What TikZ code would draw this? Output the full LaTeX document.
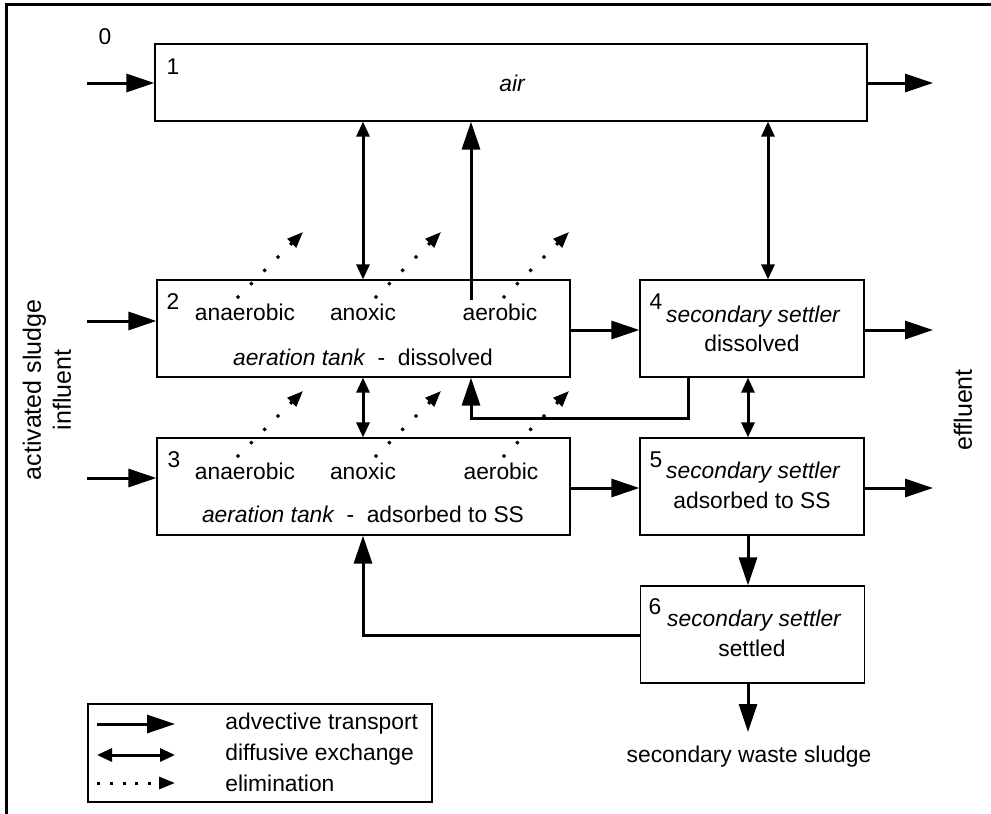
\documentclass[tikz,border=0pt]{standalone}
\usepackage{fontspec}
\setmainfont{Liberation Sans}
\usetikzlibrary{arrows.meta}

\begin{document}
\begin{tikzpicture}[x=0.5pt, y=-0.5pt,
	font=\fontsize{11.4}{13.7}\selectfont,
	box/.style={draw, line width=0.6pt, inner sep=0pt, minimum width=112pt, minimum height=48.5pt},
	tank/.style={box, minimum width=206.5pt},
	adv/.style={line width=1.5pt, -{Triangle[length=14pt, width=9pt]}},
	dif/.style={line width=1.5pt, {Triangle[length=7.5pt, width=6.5pt]}-{Triangle[length=7.5pt, width=6.5pt]}},
	elim/.style={line width=1.5pt, dash pattern=on 1.5pt off 7.9pt, -{Triangle[length=8pt, width=6pt]}}]

	\useasboundingbox (0, 0) rectangle (991, 814);

	% Frame

	\draw [line width=1.5pt] (6, 814) -- (6, 4) -- (991, 4);

	% Compartments

	\node [box, minimum width=356pt, minimum height=38.5pt] (b1) at (511, 82.5) {};
	\node [tank] (b2) at (363.5, 328.5) {};
	\node [tank] (b3) at (363.5, 486.5) {};
	\node [box] (b4) at (752, 328.5) {};
	\node [box] (b5) at (752, 486.5) {};
	\node [box] (b6) at (752.5, 634.5) {};

	% Labels inside the compartments

	\node (n0) at (105, 37) {0};
	\node (n1) at (173, 67) {1};
	\node (air) at (512, 83) {\itshape air};

	\node (n2) at (173, 302) {2};
	\node (ana2) at (245, 312) {anaerobic};
	\node (ano2) at (363, 312) {anoxic};
	\node (aer2) at (500, 312) {aerobic};
	\node (t2) at (363, 357) {\itshape aeration tank\upshape\ \ -\ \ dissolved};

	\node (n3) at (174, 460) {3};
	\node (ana3) at (245, 471) {anaerobic};
	\node (ano3) at (363, 471) {anoxic};
	\node (aer3) at (501, 471) {aerobic};
	\node (t3) at (363, 514) {\itshape aeration tank\upshape\ \ -\ \ adsorbed to SS};

	\node (n4) at (656, 302) {4};
	\node (s4) at (753, 317) {\itshape secondary settler};
	\node (d4) at (752, 343) {dissolved};

	\node (n5) at (656, 460) {5};
	\node (s5) at (753, 473) {\itshape secondary settler};
	\node (d5) at (752, 500) {adsorbed to SS};

	\node (n6) at (655, 607) {6};
	\node (s6) at (754, 621) {\itshape secondary settler};
	\node (d6) at (752, 648) {settled};

	% Outer labels

	\node [rotate=90, align=center, font=\fontsize{12.5}{15}\selectfont] (infl) at (47, 390) {activated sludge\\influent};
	\node [rotate=90, font=\fontsize{12.5}{15}\selectfont] (effl) at (963, 410) {effluent};
	\node (waste) at (749, 757) {secondary waste sludge};

	% Free ends

	\coordinate (in1) at (87, 83);
	\coordinate (in2) at (87, 321);
	\coordinate (in3) at (87, 478);
	\coordinate (out1) at (933, 83);
	\coordinate (out4) at (933, 330);
	\coordinate (out5) at (933, 488);
	\coordinate (sludge) at (748, 732);

	% Columns and bends

	\coordinate (colA) at (363, 0);
	\coordinate (colC) at (768, 0);
	\coordinate (colS) at (748, 0);
	\coordinate (aer) at (471, 300);
	\coordinate (ret4) at (688, 418);
	\coordinate (ret2) at (471, 418);
	\coordinate (ret6) at (363, 635);

	% Advective transport

	\draw [adv] (in1) -- (b1.west |- in1);
	\draw [adv] (b1.east |- out1) -- (out1);
	\draw [adv] (in2) -- (b2.west |- in2);
	\draw [adv] (in3) -- (b3.west |- in3);
	\draw [adv] (b2.east |- out4) -- (b4.west |- out4);
	\draw [adv] (b4.east |- out4) -- (out4);
	\draw [adv] (b3.east |- out5) -- (b5.west |- out5);
	\draw [adv] (b5.east |- out5) -- (out5);
	\draw [adv] (aer) -- (b1.south -| aer);
	\draw [adv] (b4.south -| ret4) -- (ret4) -- (ret2) -- (b2.south -| ret2);
	\draw [adv] (b5.south -| colS) -- (b6.north -| colS);
	\draw [adv] (b6.south -| colS) -- (sludge);
	\draw [adv] (b6.west |- ret6) -- (ret6) -- (b3.south -| ret6);

	% Diffusive exchange

	\draw [dif] (b1.south -| colA) -- (b2.north -| colA);
	\draw [dif] (b2.south -| colA) -- (b3.north -| colA);
	\draw [dif] (b1.south -| colC) -- (b4.north -| colC);
	\draw [dif] (b4.south -| colS) -- (b5.north -| colS);

	% Elimination

	\foreach \x in {237, 375, 503}
		\foreach \y in {298, 457}
			\draw [elim] (\x, \y) -- ++(66, -66);

	% Legend

	\node [draw, line width=0.6pt, minimum width=172pt, minimum height=49pt] (leg) at (260, 753) {};
	\coordinate (la1) at (97, 724);
	\coordinate (la2) at (97, 755);
	\coordinate (la3) at (97, 783);
	\draw [adv] (la1) -- ++(78, 0);
	\draw [dif] (la2) -- ++(78, 0);
	\draw [elim, dash pattern=on 1.5pt off 4.9pt] (la3) -- ++(78, 0);
	\node [anchor=west, inner sep=0pt] (ladv) at (225, 724) {advective transport};
	\node [anchor=west, inner sep=0pt] (ldif) at (225, 755) {diffusive exchange};
	\node [anchor=west, inner sep=0pt] (lelim) at (225, 783) {elimination};

\end{tikzpicture}
\end{document}
